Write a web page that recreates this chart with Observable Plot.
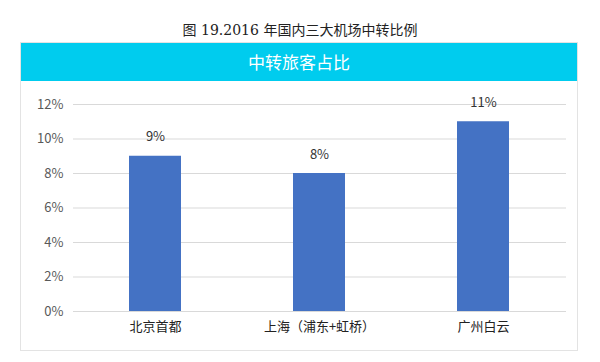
<!DOCTYPE html>
<html>
<head>
<meta charset="utf-8">
<script src="https://cdn.jsdelivr.net/npm/d3@7"></script>
<script src="https://cdn.jsdelivr.net/npm/@observablehq/plot@0.6"></script>
<style>
  html, body { margin: 0; padding: 0; background: #fff; width: 600px; height: 362px; overflow: hidden; }
  #title { position: absolute; left: 0; top: 19px; width: 600px; text-align: center;
    font-family: "DejaVu Serif", "Noto Sans CJK SC", serif; font-size: 14px; color: #222; }
  #box { position: absolute; left: 20px; top: 42px; width: 556px; height: 307px;
    border: 1px solid #e3e3e3; background: #fff; }
  #banner { position: absolute; left: 0; top: 0; width: 556px; height: 38px; background: #00CCEE;
    color: #fff; text-align: center; line-height: 38px;
    font-family: "Noto Sans CJK SC", sans-serif; font-size: 17px; }
  #chart { position: absolute; left: 0; top: 38px; }
</style>
</head>
<body>
<div id="title">图 19.2016 年国内三大机场中转比例</div>
<div id="box">
  <div id="banner">中转旅客占比</div>
  <div id="chart"></div>
</div>
<script>
const categories = ["北京首都", "上海（浦东+虹桥）", "广州白云"];
const values = [0.09, 0.08, 0.11];
const yTicks = [0, 0.02, 0.04, 0.06, 0.08, 0.10, 0.12];

const data = categories.map((c, i) => ({ airport: c, share: values[i] }));

const chart = Plot.plot({
  width: 556,
  height: 268,
  marginLeft: 52,
  marginRight: 11,
  marginTop: 23,
  marginBottom: 38,
  style: { fontFamily: "'Noto Sans CJK SC', sans-serif", fontSize: "13px", color: "#595959", background: "transparent" },
  x: { domain: categories, paddingInner: 0.68, paddingOuter: 0.34, label: null },
  y: { domain: [0, 0.12], label: null },
  marks: [
    Plot.gridY(yTicks, { stroke: "#d9d9d9", strokeOpacity: 1 }),
    Plot.axisY(yTicks, { tickSize: 0, tickPadding: 10, tickFormat: d => Math.round(d * 100) + "%", fontSize: 13, fill: "#595959" }),
    Plot.axisX({ tickSize: 0, tickPadding: 10, fontSize: 13, fill: "#222" }),
    Plot.barY(data, { x: "airport", y: "share", fill: "#4472C4" }),
    Plot.text(data, { x: "airport", y: "share", text: d => Math.round(d.share * 100) + "%", dy: -19, fontSize: 13, fill: "#333" })
  ]
});
document.getElementById("chart").appendChild(chart);
</script>
</body>
</html>
